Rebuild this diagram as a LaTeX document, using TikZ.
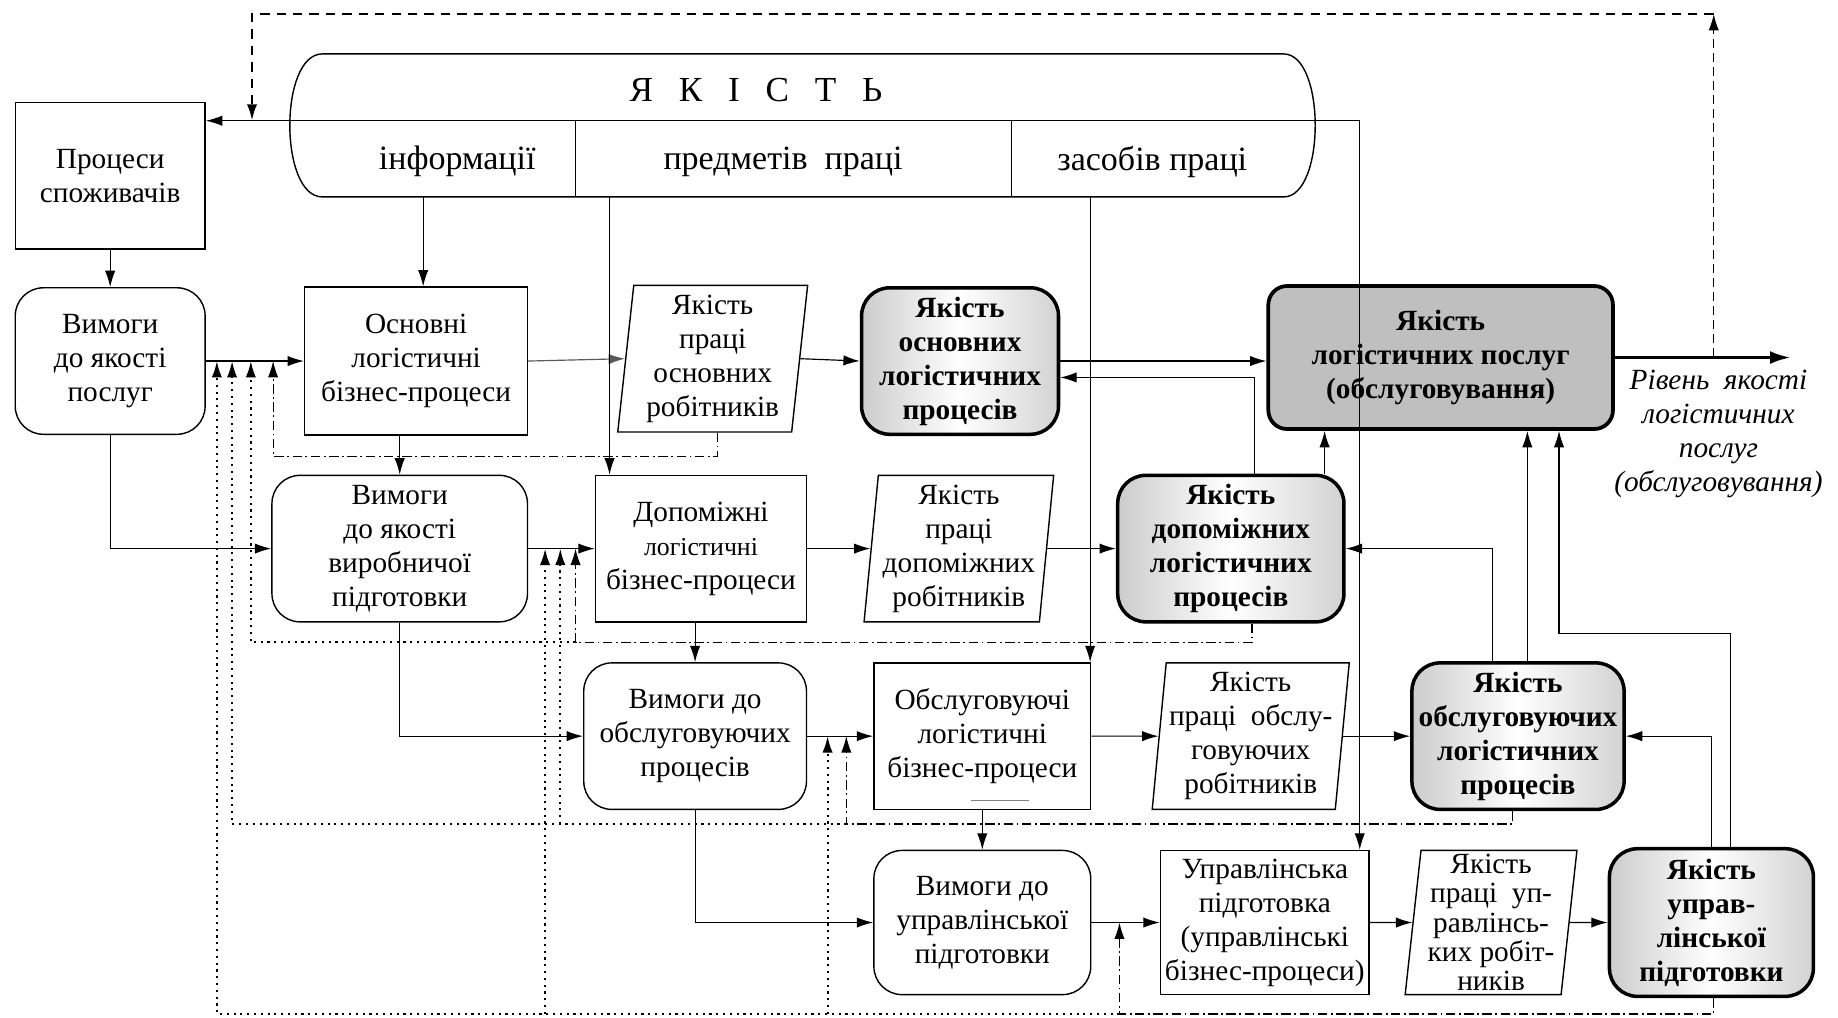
\documentclass[tikz,border=0pt]{standalone}
\usepackage{fontspec}
\setmainfont{Liberation Serif}
\usetikzlibrary{arrows.meta,shapes.geometric,calc}
\newcommand{\nodefont}{\fontsize{12.5}{14.5}\selectfont}
\newcommand{\headfont}{\fontsize{14.5}{17}\selectfont}

\begin{document}
\begin{tikzpicture}[x=0.5pt, y=-0.5pt, >={Latex[length=7pt,width=4.4pt]}]
\tikzstyle{procbox} = [draw, line width=0.6pt, align=center, inner sep=1pt, minimum height=62.5pt, font=\nodefont]
\tikzstyle{reqbox} = [procbox, rounded corners=12pt]
\tikzstyle{workbox} = [procbox, trapezium, trapezium left angle=84, trapezium right angle=96, trapezium stretches=true]
\tikzstyle{qualbox} = [procbox, rounded corners=12pt, line width=1.5pt, inner sep=0pt, font=\nodefont\bfseries, left color=gray!40, right color=gray!35, middle color=white]
\tikzstyle{link} = [->, line width=0.5pt]
\tikzstyle{fbdot} = [->, line width=0.9pt, dash pattern=on 0.9pt off 2pt]
\tikzstyle{fbdash} = [->, line width=0.5pt, dash pattern=on 4pt off 1.5pt on 0.8pt off 1.5pt]
\useasboundingbox (0,0) rectangle (1568,868);

% header
\draw[line width=0.6pt] (275,46) -- (1095,46) .. controls (1131,46) and (1131,168) .. (1095,168)
  -- (275,168) .. controls (238,168) and (238,46) .. (275,46);
\draw[line width=0.5pt] (491,103) -- (491,168);
\draw[line width=0.5pt] (863,103) -- (863,168);
\node[font=\fontsize{15}{17}\selectfont] (title) at (645,77) {Я\hspace{11pt}К\hspace{11pt}І\hspace{11pt}С\hspace{11pt}Т\hspace{11pt}Ь};
\node[font=\headfont] (tinf) at (390,138) {інформації};
\node[font=\headfont] (tpred) at (668,138) {предметів\ \ праці};
\node[font=\headfont] (tzas) at (983,138) {засобів праці};
\coordinate (divL) at (247,103);
\coordinate (divR) at (1160,103);
\coordinate (sInf) at (361,168);
\coordinate (sPred) at (520,168);
\coordinate (sZas) at (930,168);

% row 1
\node[procbox, minimum width=81pt] (proc) at (94,150) {Процеси\\споживачів};
\node[reqbox, minimum width=81pt] (vym1) at (94,308) {Вимоги\\до якості\\послуг};
\node[procbox, minimum width=95pt, minimum height=63pt] (osn) at (355,308) {Основні\\логістичні\\бізнес-процеси};
\node[workbox, minimum width=81.5pt] (pr1) at (608,306) {Якість\\праці\\основних\\робітників};
\node[qualbox, minimum width=84pt] (yak1) at (819,308) {Якість\\основних\\логістичних\\процесів};
\node[procbox, rounded corners=8pt, line width=1.6pt, fill=gray!50, minimum width=147pt, minimum height=61pt, font=\nodefont\bfseries] (yakL) at (1229,305) {Якість\\логістичних послуг\\(обслуговування)};
\node[font=\nodefont\itshape, align=center] (lvl) at (1466,370) {Рівень\ \ якості\\логістичних\\послуг\\(обслуговування)};

% row 2
\node[reqbox, minimum width=109pt] (vym2) at (341,468) {Вимоги\\до якості\\виробничої\\підготовки};
\node[procbox, minimum width=90pt] (dop) at (598,468) {Допоміжні\\{\fontsize{11}{14.5}\selectfont логістичні}\\бізнес-процеси};
\node[workbox, minimum width=81.5pt] (pr2) at (818,468) {Якість\\праці\\допоміжних\\робітників};
\node[qualbox, minimum width=96.5pt] (yak2) at (1050,468) {Якість\\допоміжних\\логістичних\\процесів};

% row 3
\node[reqbox, minimum width=95pt] (vym3) at (593,628) {Вимоги до\\обслуговуючих\\процесів};
\node[procbox, minimum width=92.5pt] (obs) at (838,628) {Обслуговуючі\\логістичні\\бізнес-процеси};
\node[workbox, minimum width=84.5pt] (pr3) at (1067,628) {Якість\\праці\ \ обслу-\\говуючих\\робітників};
\node[qualbox, minimum width=90.5pt] (yak3) at (1295,628) {Якість\\обслуговуючих\\логістичних\\процесів};
\draw[gray, line width=0.6pt] ($(obs.south)+(-10,-8)$) -- ++(50,0);

% row 4
\node[reqbox, minimum width=92.5pt, minimum height=61.5pt] (vym4) at (838,787) {Вимоги до\\управлінської\\підготовки};
\node[procbox, minimum width=89pt, minimum height=61.5pt] (upr) at (1079,787) {Управлінська\\підготовка\\(управлінські\\бізнес-процеси)};
\node[workbox, minimum width=73.5pt, minimum height=61.5pt, font=\fontsize{12.5}{12.5}\selectfont] (pr4) at (1272,787) {Якість\\праці\ \ уп-\\равлінсь-\\ких робіт-\\ників};
\node[qualbox, minimum width=87pt, minimum height=63pt] (yak4) at (1460,787) {Якість\\управ-\\лінської\\підготовки};

% output and top feedback
\coordinate (outEnd) at (1528,305);
\coordinate (fbR) at (1462,12);
\coordinate (fbL) at (215,12);
\draw[->, line width=1.5pt, >={Latex[length=9pt,width=5.5pt]}] (yakL.east) -- (outEnd);
\draw[->, line width=0.5pt, dash pattern=on 4pt off 2pt] (yakL.east -| fbR) -- (fbR);
\draw[->, line width=1.1pt, dash pattern=on 4pt off 3pt] (fbR) -- (fbL) -- (fbL |- divL);
\draw[link] (divL) -- (proc.east |- divL);
\draw[link] (divL) -- (divR) -- (upr.north -| divR);

% connectors
\draw[link] (proc) -- (vym1);
\draw[link, semithick] (vym1) -- (osn);
\draw[link] (vym1.south) |- (vym2.west);
\draw[link] (sInf) -- (sInf |- osn.north);
\draw[link] (vym2.north |- osn.south) -- (vym2.north);
\draw[link, black!65] (osn.east) -- (pr1.west);
\draw[link] (pr1.east) -- (yak1.west);
\draw[link] (yak1.east) -- (yak1.east -| yakL.west);
\draw[link] ($(yak2.north)+(20,0)$) |- ($(yak1.east)+(0,14)$);
\draw[link] ($(yak2.north)+(80,0)$) -- ($(yakL.south)+(-99,0)$);
\draw[link] (vym2) -- (dop);
\draw[link] (dop) -- (pr2);
\draw[link] (pr2) -- (yak2);
\draw[link] (vym2.south) |- (vym3.west);
\draw[link] (sPred) -- (sPred |- dop.north);
\draw[link] (vym3.north |- dop.south) -- (vym3.north);
\draw[link] (sZas) -- (sZas |- obs.north);
\draw[link] (vym3) -- (obs);
\draw[link] (obs) -- (pr3);
\draw[link] (pr3) -- (yak3);
\draw[link] ($(yak3.north)+(-22,0)$) |- (yak2.east);
\draw[link] ($(yak3.north)+(8,0)$) -- ($(yakL.south)+(74,0)$);
\draw[link] ($(yak4.north)+(16,0)$) -- ++(0,-182) -| ($(yakL.south)+(101,0)$);
\draw[link] (yak4.north) |- (yak3.east);
\draw[link] (vym3.south) |- (vym4.west);
\draw[link] (obs) -- (vym4);
\draw[link] (vym4) -- (upr);
\draw[link] (upr) -- (pr4);
\draw[link] (pr4) -- (yak4);

% feedback to requirements
\coordinate (t11) at (185,308);
\coordinate (t12) at (198,308);
\coordinate (t13) at (214,308);
\coordinate (t14) at (233,308);
\coordinate (t21) at (465,468);
\coordinate (t22) at (478,468);
\coordinate (t23) at (491,468);
\coordinate (t31) at (706,628);
\coordinate (t32) at (722,628);
\coordinate (t41) at (955,787);
\coordinate (j2) at (491,548);
\coordinate (j3) at (722,703);
\coordinate (j4) at (955,865);
\draw[fbdash] ($(pr1.south)+(4,0)$) -- ++(0,20) -| (t14);
\draw[fbdash] ($(yak2.south)+(18,0)$) |- (j2) -- (t23);
\draw[fbdot] (j2) -| (t13);
\draw[fbdash] ($(yak3.south)+(-5,0)$) |- (j3) -- (t32);
\draw[fbdot] (j3) -| (t12);
\draw[fbdot] (t22 |- j3) -- (t22);
\draw[fbdash] ($(yak4.south)+(2,0)$) |- (j4) -- (t41);
\draw[fbdot] (j4) -| (t11);
\draw[fbdot] (t21 |- j4) -- (t21);
\draw[fbdot] (t31 |- j4) -- (t31);
\end{tikzpicture}
\end{document}
